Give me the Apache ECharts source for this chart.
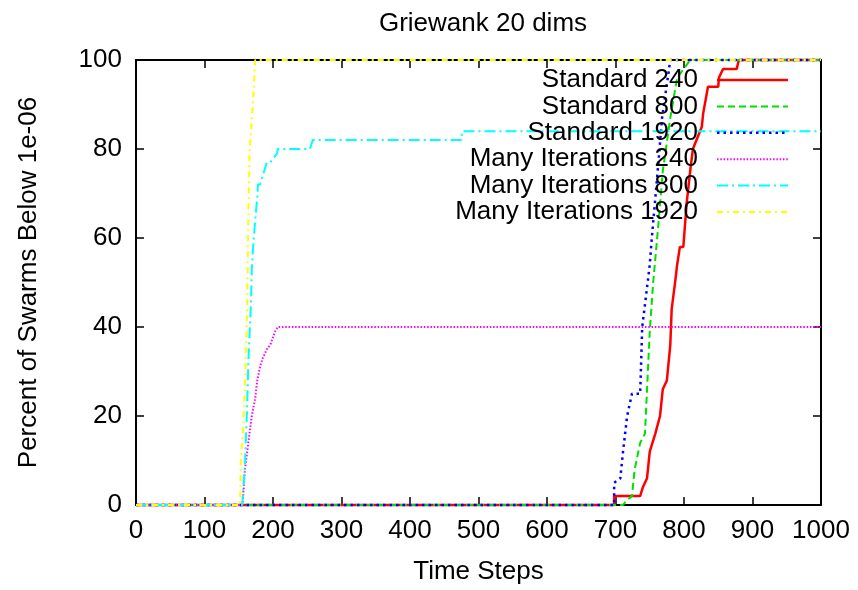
<!DOCTYPE html>
<html>
<head>
<meta charset="utf-8">
<script src="https://cdn.jsdelivr.net/npm/echarts@6/dist/echarts.min.js"></script>
<style>html,body{margin:0;padding:0;background:#fff}#c{width:858px;height:590px}</style>
</head>
<body>
<div id="c"></div>
<script>
// ---- data ----
const seriesNames = ['Standard 240','Standard 800','Standard 1920','Many Iterations 240','Many Iterations 800','Many Iterations 1920'];
const xTicks = [0,100,200,300,400,500,600,700,800,900,1000];
const yTicks = [0,20,40,60,80,100];

const xStd240 = [0,698,698,736,740,746,750,758,765,769,775,780,782,787,790,794,799,804,809,813,826,828,835,850,851,857,877,880,1000];
const yStd240 = [0,0,2,2,4,6,12,16,20,26,28,36,44,50,54,58,58,68,75,80,85,88,94,94,96,98,98,100,100];

const xStd800 = [0,711,716,724,728,736,743,750,755,762,769,780,790,809,1000];
const yStd800 = [0,0,1,2,8,14,16,39,50,62,75,87,96,100,100];

const xStd1920 = [0,698,698,707,711,717,724,736,739,743,750,753,761,768,780,1000];
const yStd1920 = [0,0,5,6,12,20,25,25,40,45,54,60,74,87,100,100];

const xMI240 = [0,155,156,159,164,169,174,177,181,185,191,196,203,207,1000];
const yMI240 = [0,0,1,8,14,20,24,28,31,33,35,36,39,40,40];

const xMI800 = [0,155,156,159,162,164,166,168,169,171,174,177,178,181,185,191,196,206,207,254,258,475,476,1000];
const yMI800 = [0,0,2,9,21,32,39,46,53,58,64,69,72,72,74,77,77,79,80,80,82,82,84,84];

const xMI1920 = [0,152,153,156,159,162,164,166,171,174,1000];
const yMI1920 = [0,0,10,16,27,42,65,80,91,100,100];

// ---- styling ----
const FONT = '"Liberation Sans", Arial, Helvetica, sans-serif';
const styles = [
  {color:'#ff0000', width:2.5, type:'solid'},
  {color:'#00e000', width:2, type:[7,4]},
  {color:'#0000ff', width:2.5, type:[2.5,4]},
  {color:'#ff00ff', width:2, type:[1.5,1.8]},
  {color:'#00ffff', width:2, type:[11,4,2,4]},
  {color:'#ffff00', width:2, type:[6,4,2,4]}
];
const xs = [xStd240,xStd800,xStd1920,xMI240,xMI800,xMI1920];
const ys = [yStd240,yStd800,yStd1920,yMI240,yMI800,yMI1920];

const chart = echarts.init(document.getElementById('c'), null, {renderer:'canvas'});

const axisLine = {show:true, onZero:false, lineStyle:{color:'#000', width:2}};
const tick = {show:true, inside:true, length:8, lineStyle:{color:'#000', width:1.5}};
const lbl = {fontSize:26, color:'#000', fontFamily:FONT, formatter:(v)=>String(v)};

const series = seriesNames.map((n,i)=>({
  name:n, type:'line', xAxisIndex:0, yAxisIndex:0,
  data: xs[i].map((x,k)=>[x, ys[i][k]]),
  showSymbol:false, symbol:'none', clip:false, animation:false,
  lineStyle:{color:styles[i].color, width:styles[i].width, type:styles[i].type, cap:'butt'},
  z: 3+i
}));

// legend drawn as graphics (text right-aligned, sample to the right)
const legendTop = 80, legendStep = 26.4, textRight = 698, sx1 = 717, sx2 = 788;
const graphics = [];
seriesNames.forEach((n,i)=>{
  const y = legendTop + i*legendStep;
  graphics.push({type:'text', x:textRight, y:y, z:100,
    style:{text:n, fill:'#000', font:'26px '+FONT, textAlign:'right', textVerticalAlign:'middle'}});
  graphics.push({type:'line', z:100, shape:{x1:sx1, y1:y, x2:sx2, y2:y},
    style:{stroke:styles[i].color, lineWidth:styles[i].width, lineDash:Array.isArray(styles[i].type)?styles[i].type:null}});
});

chart.setOption({
  animation:false,
  backgroundColor:'#fff',
  title:{text:'Griewank 20 dims', left:478, top:6, textAlign:'center',
    textStyle:{fontSize:26, fontWeight:'normal', color:'#000', fontFamily:FONT}},
  grid:{left:136, right:37, top:60, bottom:85, containLabel:false},
  xAxis:[
    {type:'value', min:xTicks[0], max:xTicks[xTicks.length-1], interval:xTicks[1]-xTicks[0], position:'bottom',
     axisLine, axisTick:tick, splitLine:{show:false},
     axisLabel:Object.assign({margin:13}, lbl),
     name:'Time Steps', nameLocation:'middle', nameGap:54,
     nameTextStyle:{fontSize:26, color:'#000', fontFamily:FONT}},
    {type:'value', min:xTicks[0], max:xTicks[xTicks.length-1], interval:xTicks[1]-xTicks[0], position:'top',
     axisLine, axisTick:tick, splitLine:{show:false}, axisLabel:{show:false}}
  ],
  yAxis:[
    {type:'value', min:yTicks[0], max:yTicks[yTicks.length-1], interval:yTicks[1]-yTicks[0], position:'left',
     axisLine, axisTick:tick, splitLine:{show:false},
     axisLabel:Object.assign({margin:14}, lbl),
     name:'Percent of Swarms Below 1e-06', nameLocation:'middle', nameGap:94,
     nameTextStyle:{fontSize:26, color:'#000', fontFamily:FONT}},
    {type:'value', min:yTicks[0], max:yTicks[yTicks.length-1], interval:yTicks[1]-yTicks[0], position:'right',
     axisLine, axisTick:tick, splitLine:{show:false}, axisLabel:{show:false}}
  ],
  series,
  graphic:graphics
});
</script>
</body>
</html>
